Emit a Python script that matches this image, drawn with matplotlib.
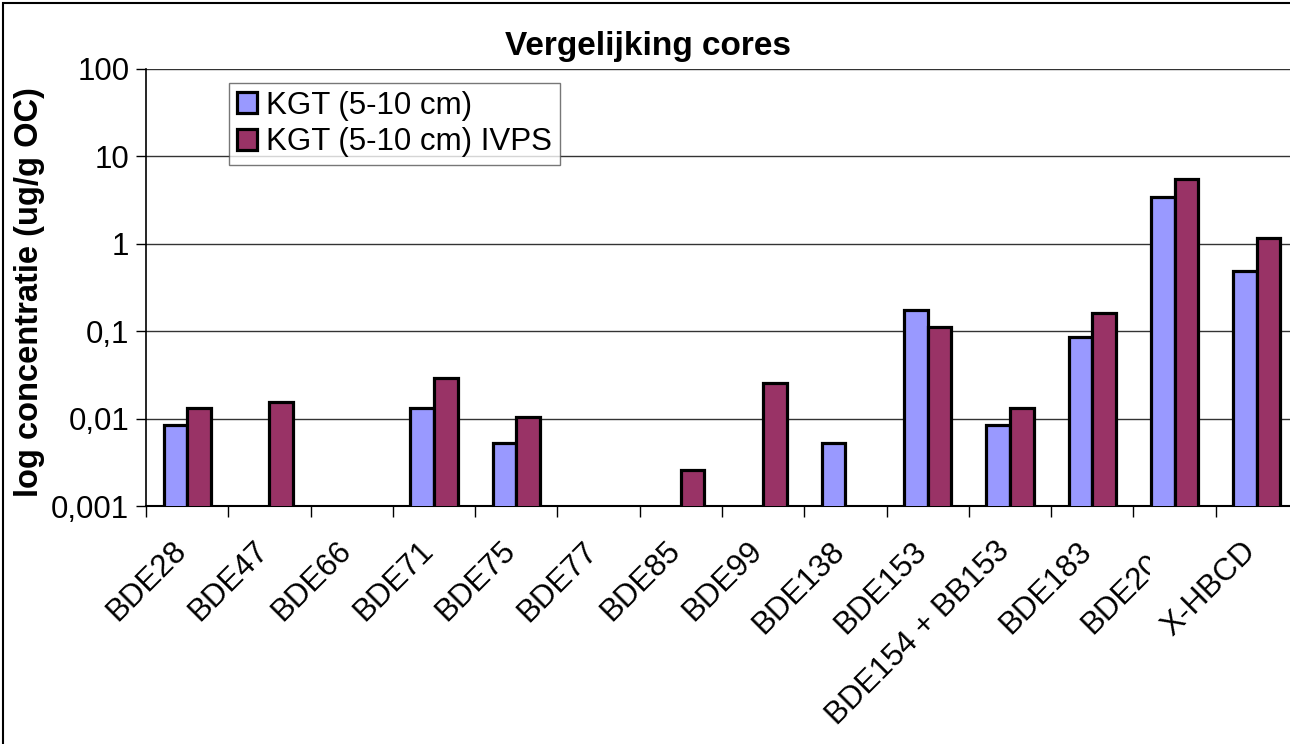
import numpy as np
import matplotlib.pyplot as plt
from matplotlib.patches import Rectangle
from matplotlib.transforms import Bbox

categories = ["BDE28", "BDE47", "BDE66", "BDE71", "BDE75", "BDE77", "BDE85",
              "BDE99", "BDE138", "BDE153", "BDE154 + BB153", "BDE183",
              "BDE209", "X-HBCD"]
kgt = [0.0085, np.nan, np.nan, 0.0132, 0.0052, np.nan, np.nan,
       np.nan, 0.0052, 0.174, 0.0085, 0.085, 3.43, 0.49]
kgt_ivps = [0.0132, 0.0155, np.nan, 0.029, 0.0104, np.nan, 0.0026,
            0.0256, np.nan, 0.112, 0.0132, 0.162, 5.5, 1.17]
yticks = [0.001, 0.01, 0.1, 1, 10, 100]
ytick_labels = ["0,001", "0,01", "0,1", "1", "10", "100"]

plt.rcParams['font.family'] = ['Liberation Sans', 'DejaVu Sans']

W, H = 1290, 744
fig = plt.figure(figsize=(W / 100, H / 100), dpi=100)

# chart border (partly off the image, as in the reference)
fig.patches.append(Rectangle((3 / W, -0.1), 1.2, 1 - 3 / H + 0.1,
                             transform=fig.transFigure, fill=False,
                             edgecolor='black', lw=1.5))

ax = fig.add_axes([146 / W, 1 - 506 / H, 1152 / W, 437 / H])

n = len(categories)
x = np.arange(n) + 0.5
w = 1 / 3.5
ax.bar(x - w / 2, kgt, w, color='#9999ff', edgecolor='black', lw=2.3,
       label="KGT (5-10 cm)", zorder=3)
ax.bar(x + w / 2, kgt_ivps, w, color='#993366', edgecolor='black', lw=2.3,
       label="KGT (5-10 cm) IVPS", zorder=3)

ax.set_yscale('log')
ax.set_ylim(0.001, 100)
ax.set_xlim(0, n)
ax.set_yticks(yticks)
ax.set_yticklabels(ytick_labels, fontsize=22.5)
ax.yaxis.set_minor_locator(plt.NullLocator())
ax.tick_params(axis='y', length=7, width=1, pad=5)

ax.set_xticks(np.arange(n + 1))
ax.set_xticklabels([])
ax.tick_params(axis='x', which='major', length=8, width=1, direction='out')

# rotated category labels
for i, (xi, lab) in enumerate(zip(x, categories)):
    t = ax.annotate(lab, xy=(xi, 0), xycoords=('data', 'axes fraction'),
                    xytext=(-11.5, -21.6), textcoords='offset points',
                    rotation=45, ha='right', va='top',
                    rotation_mode='anchor', fontsize=22.5,
                    annotation_clip=False)
    if lab == "BDE209":
        # this label is cut off in the original
        t.set_clip_on(True)
        t.set_clip_box(Bbox([[0, 0], [1150, H]]))

ax.grid(axis='y', color='#333333', lw=1, zorder=0)
for s in ['top', 'right']:
    ax.spines[s].set_visible(False)
ax.spines['left'].set_linewidth(1.2)
ax.spines['bottom'].set_linewidth(1.5)

fig.text(30 / W, 1 - 292 / H, "log concentratie (ug/g OC)", rotation=90,
         ha='center', va='center', fontsize=23.5, fontweight='bold')
fig.text(648 / W, 1 - 47 / H, "Vergelijking cores", ha='center',
         va='center', fontsize=24, fontweight='bold')

leg = ax.legend(loc='upper left', bbox_to_anchor=((229 - 146) / 1152,
                                                   1 - (83 - 69) / 437),
                fontsize=22.5, frameon=True, fancybox=False, borderpad=0.25,
                labelspacing=0.2, handlelength=0.65, handleheight=0.65,
                handletextpad=0.3, borderaxespad=0)
leg.get_frame().set_edgecolor('#555555')
leg.get_frame().set_linewidth(1)

fig.savefig("out.png", dpi=100)
